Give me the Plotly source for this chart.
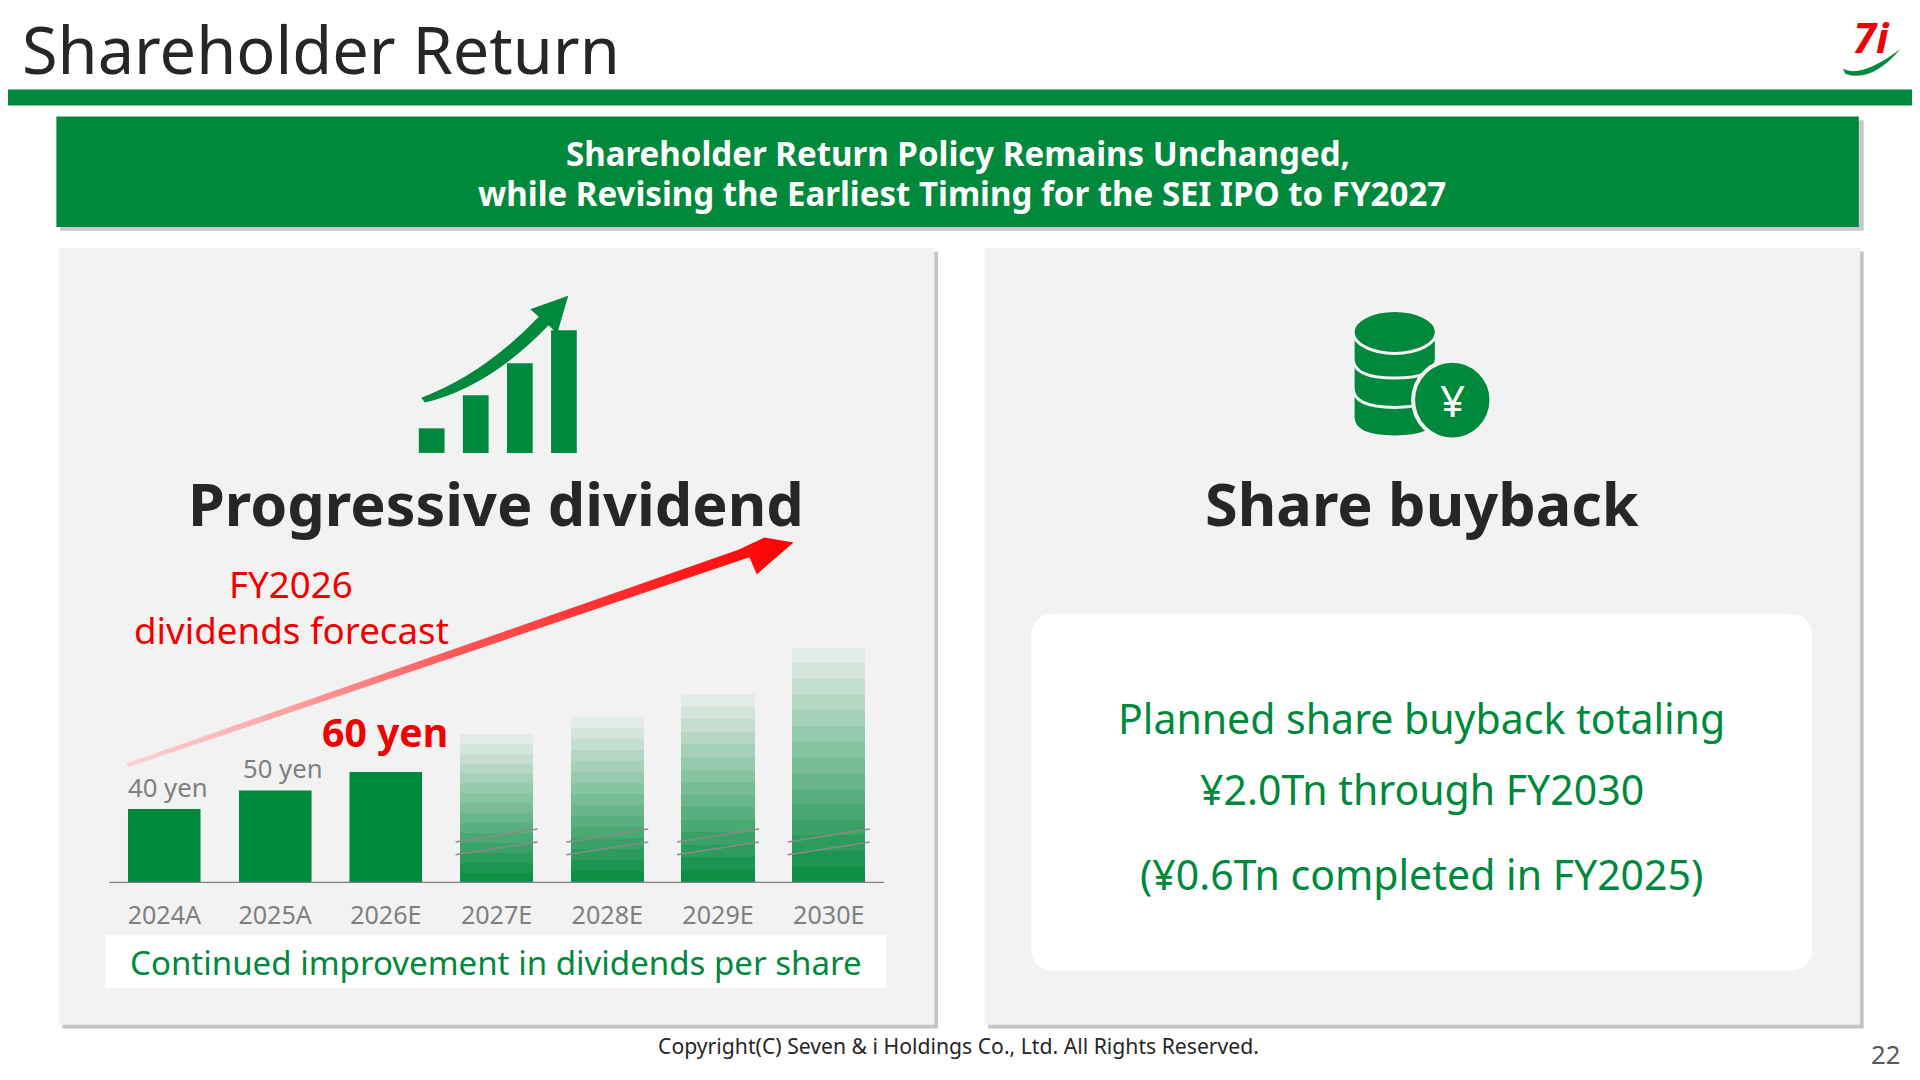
import plotly.graph_objects as go

S = 1920 / 1568  # reference pixel -> output pixel
OFF = 6.5        # compensate page body margin
GREEN = "#00893C"
RED = "#F00000"
FONT = "Noto Sans"

# data
years = ["2024A", "2025A", "2026E", "2027E", "2028E", "2029E", "2030E"]
dividends = [40, 50, 60]            # yen, actual / forecast
future_height = [86, 96, 109, 136]  # decorative faded bars
div_labels = ["40 yen", "50 yen", "60 yen"]

fig = go.Figure()

# red gradient arrow (pixel axis x/y)
fig.add_trace(go.Scatter(
    x=[105, 612, 618, 648, 624, 603, 103, 105], y=[625, 454, 468, 442, 438, 448, 622, 625],
    fill="toself", mode="lines", line=dict(width=0),
    fillgradient=dict(type="horizontal", colorscale=[[0, "rgba(255,190,190,0.6)"], [0.5, "#ff5555"], [1, "#ff0000"]]),
    xaxis="x", yaxis="y", showlegend=False, hoverinfo="skip"))

# solid bars
fig.add_trace(go.Bar(x=years[:3], y=dividends, marker_color=GREEN, width=0.66,
                     xaxis="x2", yaxis="y2", showlegend=False, hoverinfo="skip"))

# faded bars as stacked slices with increasing opacity toward the base
n = 16
for k in range(n):
    alpha = 0.95 - 0.95 * k / (n - 1)
    fig.add_trace(go.Bar(x=years[3:], y=[h / n for h in future_height],
                         marker=dict(color=f"rgba(0,137,60,{alpha:.3f})", line_width=0),
                         width=0.66, xaxis="x2", yaxis="y2", showlegend=False, hoverinfo="skip"))

# break marks on future bars (linear overlay of the category axis)
for i in range(3, 7):
    for off in (0, 7):
        fig.add_trace(go.Scatter(x=[i - 0.37, i + 0.37], y=[15 + off, 22 + off], mode="lines",
                                 line=dict(color="#8a8a8a", width=1.5), xaxis="x3", yaxis="y3",
                                 showlegend=False, hoverinfo="skip"))

shapes = []
def rect(x0, y0, x1, y1, color, layer="below"):
    shapes.append(dict(type="rect", xref="x", yref="y", x0=x0, y0=y0, x1=x1, y1=y1,
                       fillcolor=color, line=dict(width=0), layer=layer))

# header line, banner, panels
rect(-20, 73, 1590, 86, GREEN)
rect(49, 98, 1522, 188, "#c8c8c8")
rect(46, 95, 1518, 185, GREEN)
for x0 in (48, 804):
    rect(x0 + 3, 205, x0 + 718, 838, "#c4c4c4")
    rect(x0, 202, x0 + 715, 835, "#F2F2F2")
shapes.append(dict(type="path", xref="x", yref="y", layer="below",
                   path="M 862,500 L 1460,500 Q 1480,500 1480,520 L 1480,771 Q 1480,791 1460,791 "
                        "L 862,791 Q 842,791 842,771 L 842,520 Q 842,500 862,500 Z",
                   fillcolor="white", line=dict(width=0)))
rect(86, 762, 724, 805, "white")
shapes.append(dict(type="line", xref="x", yref="y", x0=89, x1=722, y0=719, y1=719,
                   line=dict(color="#7f7f7f", width=1.2)))

# growth icon
for x0, y0 in [(342, 349), (378, 322), (414, 296), (450, 269)]:
    rect(x0, y0, x0 + 21, 369, GREEN, layer="above")
shapes.append(dict(type="path", xref="x", yref="y", fillcolor=GREEN, line=dict(width=0),
                   path="M 344,324 Q 395,305 440,258 L 433,252 L 464,241 L 455,272 L 448,265 "
                        "Q 400,315 347,328 Z"))

# coin stack icon
for cy in (328, 304, 280):
    shapes.append(dict(type="path", xref="x", yref="y", fillcolor=GREEN, line=dict(color="#F2F2F2", width=3),
                       path=f"M 1105,{cy-10} L 1105,{cy+12} Q 1105,{cy+28} 1139,{cy+28} "
                            f"Q 1173,{cy+28} 1173,{cy+12} L 1173,{cy-10} Z"))
shapes.append(dict(type="circle", xref="x", yref="y", x0=1105, x1=1173, y0=253, y1=288,
                   fillcolor=GREEN, line=dict(color="#F2F2F2", width=3)))
shapes.append(dict(type="circle", xref="x", yref="y", x0=1154, x1=1218, y0=294, y1=358,
                   fillcolor=GREEN, line=dict(color="#F2F2F2", width=4)))

# logo swoosh
shapes.append(dict(type="path", xref="x", yref="y", fillcolor=GREEN, line=dict(width=0),
                   path="M 1505,56 Q 1520,64 1552,40 Q 1528,68 1507,60 Z"))

ann = []
def text(x, y, t, size, color="#262626", bold=False, xanchor="center", yanchor="middle"):
    ann.append(dict(xref="x", yref="y", x=x, y=y, text=f"<b>{t}</b>" if bold else t,
                    showarrow=False, xanchor=xanchor, yanchor=yanchor,
                    font=dict(family=FONT, size=size * S, color=color)))

text(16, 40, "Shareholder Return", 53, xanchor="left")
text(782, 125, "Shareholder Return Policy Remains Unchanged,", 27, "white", True)
text(786, 158, "while Revising the Earliest Timing for the SEI IPO to FY2027", 27, "white", True)
text(405, 410, "Progressive dividend", 48.5, bold=True)
text(1161, 410, "Share buyback", 48.5, bold=True)
text(238, 476, "FY2026", 30, RED)
text(238, 513, "dividends forecast", 30, RED)
text(137, 642, div_labels[0], 21, "#7f7f7f")
text(231, 626, div_labels[1], 21, "#7f7f7f")
text(314, 596, div_labels[2], 32, RED, True)
text(405, 784, "Continued improvement in dividends per share", 27, GREEN)
text(1161, 585, "Planned share buyback totaling", 33.5, GREEN)
text(1161, 643, "¥2.0Tn through FY2030", 33.5, GREEN)
text(1161, 712, "(¥0.6Tn completed in FY2025)", 33.5, GREEN)
text(1186, 326, "¥", 36, "white")
text(783, 852, "Copyright(C) Seven &amp; i Holdings Co., Ltd. All Rights Reserved.", 17.3, "#262626")
text(1540, 859, "22", 21, "#595959")
text(1528, 30, "<i>7i</i>", 34, RED, True)

bar_dom_x = [(89 - OFF) / 1568, (722 - OFF) / 1568]
bar_dom_y = [1 - (719 - OFF) / 880, 1 - (509 - OFF) / 880]
fig.update_layout(
    width=1920, height=1080, margin=dict(l=0, r=0, t=0, b=0),
    paper_bgcolor="white", plot_bgcolor="rgba(0,0,0,0)", barmode="stack", bargap=0.34,
    xaxis=dict(domain=[0, 1], range=[OFF, 1568 + OFF], visible=False, anchor="y"),
    yaxis=dict(domain=[0, 1], range=[880 + OFF, OFF], visible=False, anchor="x"),
    xaxis2=dict(domain=bar_dom_x, range=[-0.5, 6.5], type="category",
                anchor="y2", showgrid=False, zeroline=False, showline=False, ticks="",
                tickfont=dict(family=FONT, size=20.5 * S, color="#7f7f7f"), ticklabelstandoff=15),
    yaxis2=dict(domain=bar_dom_y, range=[0, 140], visible=False, anchor="x2"),
    xaxis3=dict(domain=bar_dom_x, range=[-0.5, 6.5], visible=False, anchor="y3"),
    yaxis3=dict(domain=bar_dom_y, range=[0, 140], visible=False, anchor="x3"),
    shapes=shapes, annotations=ann,
)
fig.write_html("out.html")
